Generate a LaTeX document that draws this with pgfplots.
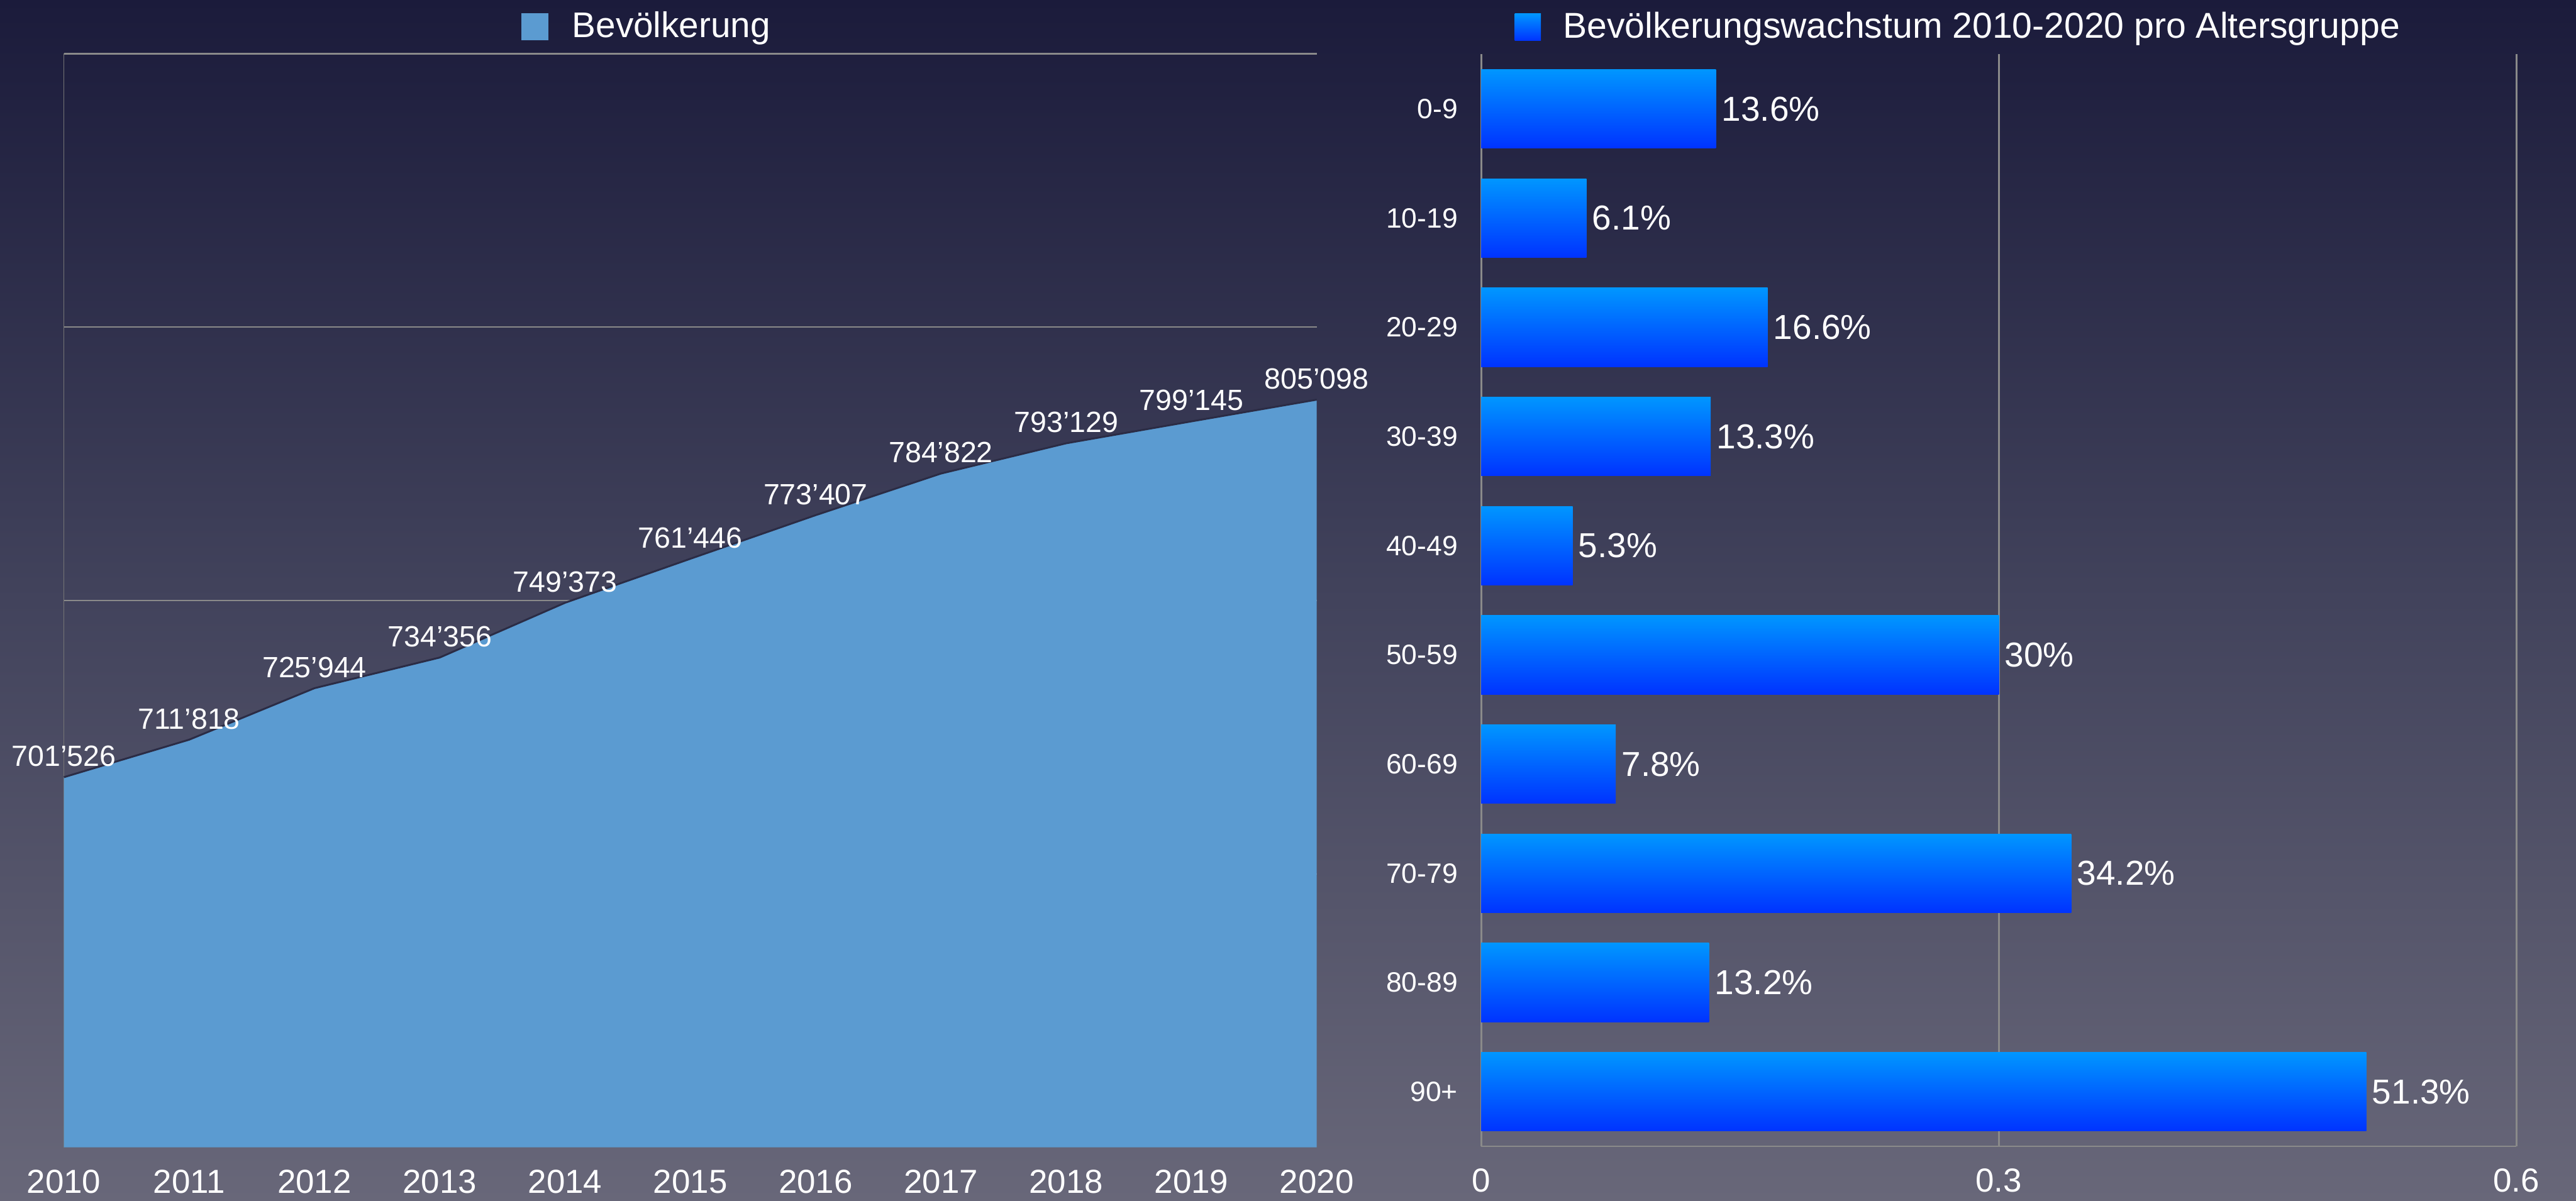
\documentclass[border=0pt]{standalone}
\usepackage{pgfplots}
\pgfplotsset{compat=1.18}
\usepackage{fontspec}
\setmainfont{Liberation Sans}
\definecolor{bgtop}{HTML}{1B1B3B}
\definecolor{bgmid}{HTML}{42435C}
\definecolor{bgbot}{HTML}{686779}
\definecolor{areacol}{HTML}{5B9BD1}
\definecolor{areaedge}{HTML}{2B2C45}
\definecolor{gridcol}{HTML}{8A8A8A}
\definecolor{axcol}{HTML}{767676}
\definecolor{barTop}{HTML}{0096FF}
\definecolor{barBot}{HTML}{0033FF}
\begin{document}
\begin{tikzpicture}
\path[use as bounding box] (0,0) rectangle (968pt,451.2pt);
\shade[top color=bgtop, bottom color=bgbot, middle color=bgmid] (0,0) rectangle (968pt,451.2pt);

\begin{axis}[
  at={(24pt,20pt)}, anchor=south west, scale only axis,
  width=470.8pt, height=411pt,
  xmin=2010, xmax=2020, ymin=600000, ymax=900000,
  scaled y ticks=false, scaled x ticks=false,
  xtick={2010,2011,2012,2013,2014,2015,2016,2017,2018,2019,2020},
  xticklabels={2010,2011,2012,2013,2014,2015,2016,2017,2018,2019,2020},
  ytick={675000,750000,825000,900000}, yticklabels={},
  ymajorgrids, grid style={gridcol, line width=0.6pt},
  axis line style={draw=none}, major tick length=0pt,
  xticklabel style={font=\fontsize{12.5}{14}\selectfont, text=white, yshift=-5pt},
  clip=false,
  legend style={at={(axis description cs:0.3649,1)}, anchor=west, yshift=10.2pt,
    draw=none, fill=none, inner sep=0pt, outer sep=0pt, text=white,
    font=\fontsize{13.4}{15}\selectfont, column sep=9pt, nodes={inner sep=0pt}},
  legend image code/.code={\fill[areacol] (0pt,-5.1pt) rectangle (10.2pt,5.1pt);},
]
\draw[axcol, line width=0.35pt] (axis cs:2010,600000) -- (axis cs:2010,900000);
\addplot[fill=areacol, draw=none] coordinates {
  (2010,600000) (2010,701526) (2011,711818) (2012,725944) (2013,734356) (2014,749373)
  (2015,761446) (2016,773407) (2017,784822) (2018,793129) (2019,799145) (2020,805098)
  (2020,600000)};
\addlegendentry{Bevölkerung}
\addplot[areaedge, line width=0.7pt, forget plot, nodes near coords, point meta=explicit symbolic,
  nodes near coords style={anchor=south, inner sep=0pt, yshift=3.6pt, text=white, font=\fontsize{11}{13}\selectfont}]
  coordinates {
  (2010,701526) [701’526]
  (2011,711818) [711’818]
  (2012,725944) [725’944]
  (2013,734356) [734’356]
  (2014,749373) [749’373]
  (2015,761446) [761’446]
  (2016,773407) [773’407]
  (2017,784822) [784’822]
  (2018,793129) [793’129]
  (2019,799145) [799’145]
  (2020,805098) [805’098]
  };
\end{axis}

\begin{axis}[
  at={(556.6pt,20.4pt)}, anchor=south west, scale only axis,
  width=389pt, height=410.4pt,
  xmin=0, xmax=0.6, ymin=-0.5, ymax=9.5, y dir=reverse,
  xtick={0,0.3,0.6}, xticklabels={0,0.3,0.6},
  ytick={0,1,2,3,4,5,6,7,8,9},
  yticklabels={0-9,10-19,20-29,30-39,40-49,50-59,60-69,70-79,80-89,90+},
  xmajorgrids, grid style={gridcol, line width=0.6pt},
  axis line style={draw=none}, major tick length=0pt,
  xticklabel style={font=\fontsize{12.5}{14}\selectfont, text=white, yshift=-5pt},
  yticklabel style={font=\fontsize{10.5}{12}\selectfont, text=white, xshift=-5.3pt},
  xbar, bar width=29.6pt, bar shift=0pt,
  clip=false,
  barstyle/.style={xbar, bar shift=0pt, draw=none, top color=barTop, bottom color=barBot,
    nodes near coords, point meta=explicit symbolic,
    nodes near coords style={anchor=west, inner sep=0pt, xshift=2pt, text=white, font=\fontsize{13}{15}\selectfont}},
  legend style={at={(axis description cs:0.0324,1)}, anchor=west, yshift=10.2pt,
    draw=none, fill=none, inner sep=0pt, outer sep=0pt, text=white,
    font=\fontsize{13.5}{15}\selectfont, column sep=8.4pt, nodes={inner sep=0pt}},
  legend image code/.code={\shade[top color=barTop, bottom color=barBot] (0pt,-5.1pt) rectangle (9.8pt,5.1pt);},
]
\addplot[barstyle] coordinates {(0.136,0) [13.6\%]};
\addlegendentry{Bevölkerungswachstum 2010-2020 pro Altersgruppe}
\addplot[barstyle, forget plot] coordinates {(0.061,1) [6.1\%]};
\addplot[barstyle, forget plot] coordinates {(0.166,2) [16.6\%]};
\addplot[barstyle, forget plot] coordinates {(0.133,3) [13.3\%]};
\addplot[barstyle, forget plot] coordinates {(0.053,4) [5.3\%]};
\addplot[barstyle, forget plot] coordinates {(0.300,5) [30\%]};
\addplot[barstyle, forget plot] coordinates {(0.078,6) [7.8\%]};
\addplot[barstyle, forget plot] coordinates {(0.342,7) [34.2\%]};
\addplot[barstyle, forget plot] coordinates {(0.132,8) [13.2\%]};
\addplot[barstyle, forget plot] coordinates {(0.513,9) [51.3\%]};
\draw[gridcol, line width=0.6pt] (axis cs:0,9.5) -- (axis cs:0.6,9.5);
\end{axis}
\end{tikzpicture}
\end{document}
